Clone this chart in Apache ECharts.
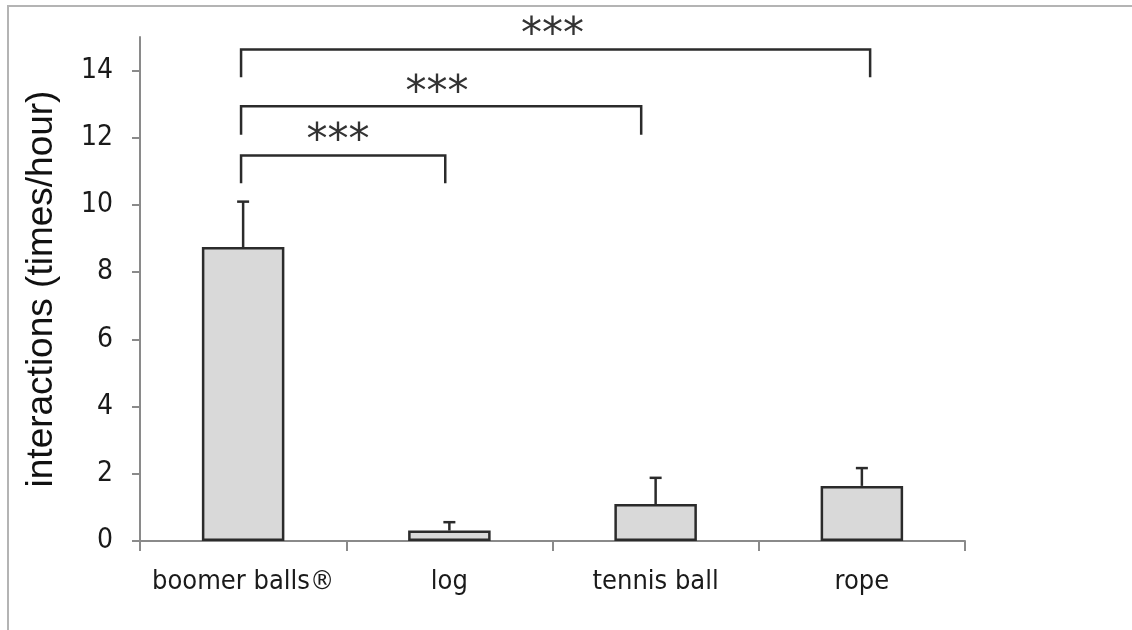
<!DOCTYPE html>
<html>
<head>
<meta charset="utf-8">
<script src="https://cdn.jsdelivr.net/npm/echarts@6/dist/echarts.min.js"></script>
<style>
  html, body { margin: 0; padding: 0; background: #fff; }
  #chart { width: 1132px; height: 630px; }
</style>
</head>
<body>
<div id="chart"></div>
<script>
// Toy interaction rates (mean ± standard error)
const categories = ['boomer balls®', 'log', 'tennis ball', 'rope'];
const meanRate = [8.75, 0.31, 1.10, 1.64];
const stdError = [1.35, 0.25, 0.78, 0.53];
const yTicks = [0, 2, 4, 6, 8, 10, 12, 14];

// Significance brackets: span along the category scale (0..4),
// bracket height, leg end and where the stars sit.
const comparisons = [
  { from: 0.49, to: 1.48, top: 11.47, leg: 10.65, stars: '***', sx: 0.96, sy: 12.15 },
  { from: 0.49, to: 2.43, top: 12.94, leg: 12.09, stars: '***', sx: 1.44, sy: 13.58 },
  { from: 0.49, to: 3.54, top: 14.63, leg: 13.80, stars: '***', sx: 2.00, sy: 15.28 }
];

const NARROW = '"Liberation Sans Narrow", "Arial Narrow", "DejaVu Sans Condensed", sans-serif';
const INK = '#2b2b2b';
const AXIS = '#8a8a8a';

const chart = echarts.init(document.getElementById('chart'), null, { renderer: 'canvas' });

chart.setOption({
  animation: false,
  backgroundColor: '#fff',
  graphic: [{
    type: 'polyline',
    shape: { points: [[8, 630], [8, 6], [1132, 6]] },
    style: { stroke: '#b4b4b4', lineWidth: 2, fill: null },
    z: 0
  }],
  grid: { left: 140, right: 167, top: 37, bottom: 89, containLabel: false },
  xAxis: [{
    type: 'category',
    data: categories,
    boundaryGap: true,
    axisLine: { show: true, lineStyle: { color: AXIS, width: 2 } },
    axisTick: { show: true, interval: 0, length: 10, lineStyle: { color: AXIS, width: 2 } },
    axisLabel: { interval: 0, margin: 27, fontSize: 27, fontFamily: NARROW, color: '#1a1a1a' },
    splitLine: { show: false }
  }, {
    type: 'value',
    min: 0,
    max: 4,
    show: false
  }],
  yAxis: {
    type: 'value',
    min: 0,
    max: 15,
    name: 'interactions (times/hour)',
    nameLocation: 'middle',
    nameGap: 80,
    nameTextStyle: { fontSize: 37, fontFamily: '"Liberation Sans", Arial, sans-serif', color: '#111' },
    axisLine: { show: true, lineStyle: { color: AXIS, width: 2 } },
    axisTick: { show: true, length: 8, customValues: yTicks, lineStyle: { color: AXIS, width: 2 } },
    axisLabel: { margin: 27, fontSize: 28, fontFamily: NARROW, color: '#1a1a1a', customValues: yTicks },
    splitLine: { show: false }
  },
  series: [{
    type: 'bar',
    data: meanRate,
    barWidth: '40%',
    itemStyle: { color: '#d9d9d9', borderColor: INK, borderWidth: 2.5 }
  }, {
    // upper error whiskers
    type: 'custom',
    xAxisIndex: 0,
    encode: { x: 0, y: [1, 2] },
    data: meanRate.map((m, i) => [i, m, m + stdError[i]]),
    renderItem(params, api) {
      const base = api.coord([api.value(0), api.value(1)]);
      const cap = api.coord([api.value(0), api.value(2)]);
      const half = 6;
      return {
        type: 'group',
        children: [
          { type: 'line', shape: { x1: base[0], y1: base[1], x2: cap[0], y2: cap[1] }, style: { stroke: INK, lineWidth: 2.5 } },
          { type: 'line', shape: { x1: cap[0] - half, y1: cap[1], x2: cap[0] + half, y2: cap[1] }, style: { stroke: INK, lineWidth: 2.5 } }
        ]
      };
    },
    z: 3
  }, {
    // significance brackets
    type: 'custom',
    xAxisIndex: 1,
    clip: false,
    encode: { x: [0, 1], y: [2, 3] },
    data: comparisons.map(c => [c.from, c.to, c.top, c.leg, c.sx, c.sy]),
    renderItem(params, api) {
      const a = api.coord([api.value(0), api.value(3)]);
      const b = api.coord([api.value(0), api.value(2)]);
      const c = api.coord([api.value(1), api.value(2)]);
      const d = api.coord([api.value(1), api.value(3)]);
      const s = api.coord([api.value(4), api.value(5)]);
      return {
        type: 'group',
        children: [
          { type: 'polyline', shape: { points: [a, b, c, d] }, style: { stroke: INK, lineWidth: 2.5, fill: null } },
          { type: 'text', x: s[0], y: s[1] + 9, style: {
              text: comparisons[params.dataIndex].stars,
              align: 'center', verticalAlign: 'middle',
              fontSize: 42, fontFamily: '"DejaVu Sans", sans-serif', fill: '#333'
          } }
        ]
      };
    },
    z: 3
  }]
});
</script>
</body>
</html>
